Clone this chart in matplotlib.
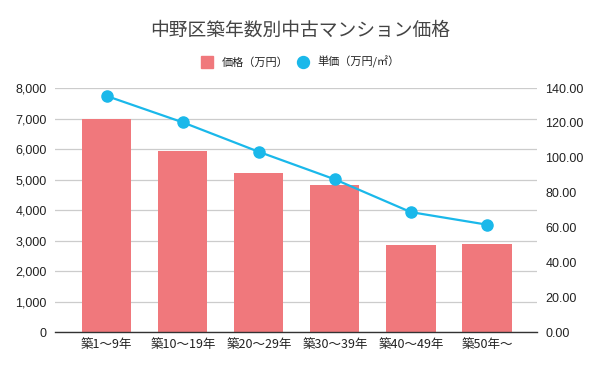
import matplotlib
matplotlib.use("Agg")
import matplotlib.pyplot as plt
from matplotlib.ticker import FuncFormatter, MultipleLocator
from matplotlib.lines import Line2D

categories = ["築1～9年", "築10～19年", "築20～29年", "築30～39年", "築40～49年", "築50年～"]
price = [7000, 5940, 5200, 4810, 2840, 2880]
unit_price = [135.4, 120.3, 103.4, 87.6, 68.8, 61.6]

title = "中野区築年数別中古マンション価格"
legend_labels = ["価格（万円）", "単価（万円/㎡）"]

FAM = ["Liberation Sans", "Noto Sans CJK JP", "DejaVu Sans"]
plt.rcParams["font.family"] = FAM

bar_color = "#F0787C"
line_color = "#1AB8EA"
text_color = "#222222"

fig = plt.figure(figsize=(6, 3.71), dpi=100)
ax = fig.add_axes([0.0917, 0.1051, 0.8033, 0.6577])
ax2 = ax.twinx()

x = list(range(len(categories)))
ax.bar(x, price, width=0.65, color=bar_color, zorder=2)
ax.set_xlim(-0.68, 5.66)
ax.set_ylim(0, 8000)
ax.yaxis.set_major_locator(MultipleLocator(1000))
ax.yaxis.set_major_formatter(FuncFormatter(lambda v, p: f"{int(v):,}"))
ax.grid(axis="y", color="#CCCCCC", linewidth=0.9, zorder=0)
ax.set_axisbelow(True)
ax.set_xticks(x)
ax.set_xticklabels(categories, fontsize=8.5, color=text_color, family=["Noto Sans CJK JP"])
ax.tick_params(axis="both", length=0, labelsize=9, colors=text_color)
ax.tick_params(axis="x", pad=4)
ax.tick_params(axis="y", pad=6)
for s in ["top", "right", "left"]:
    ax.spines[s].set_visible(False)
ax.spines["bottom"].set_color("#333333")
ax.spines["bottom"].set_linewidth(1.0)

ax2.plot(x, unit_price, color=line_color, linewidth=1.6, marker="o", markersize=8, zorder=3)
ax2.set_ylim(0, 140)
ax2.yaxis.set_major_locator(MultipleLocator(20))
ax2.yaxis.set_major_formatter(FuncFormatter(lambda v, p: f"{v:.2f}"))
ax2.tick_params(axis="y", length=0, labelsize=9, colors=text_color, pad=6)
for s in ["top", "right", "left", "bottom"]:
    ax2.spines[s].set_visible(False)

fig.text(0.5, 0.918, title, ha="center", va="center", fontsize=13.5, color="#444444",
         family=["Noto Sans CJK JP"])

handles = [
    Line2D([0], [0], marker="s", linestyle="none", markersize=8.6, color=bar_color),
    Line2D([0], [0], marker="o", linestyle="none", markersize=8.6, color=line_color),
]
fig.legend(handles, legend_labels, loc="center", bbox_to_anchor=(0.5, 0.832), ncol=2,
           frameon=False, prop={"family": ["Noto Sans CJK JP"], "size": 8},
           handletextpad=0.7, columnspacing=0.7, handlelength=1.2, labelcolor="#222222")

fig.savefig("out.png", dpi=100)
